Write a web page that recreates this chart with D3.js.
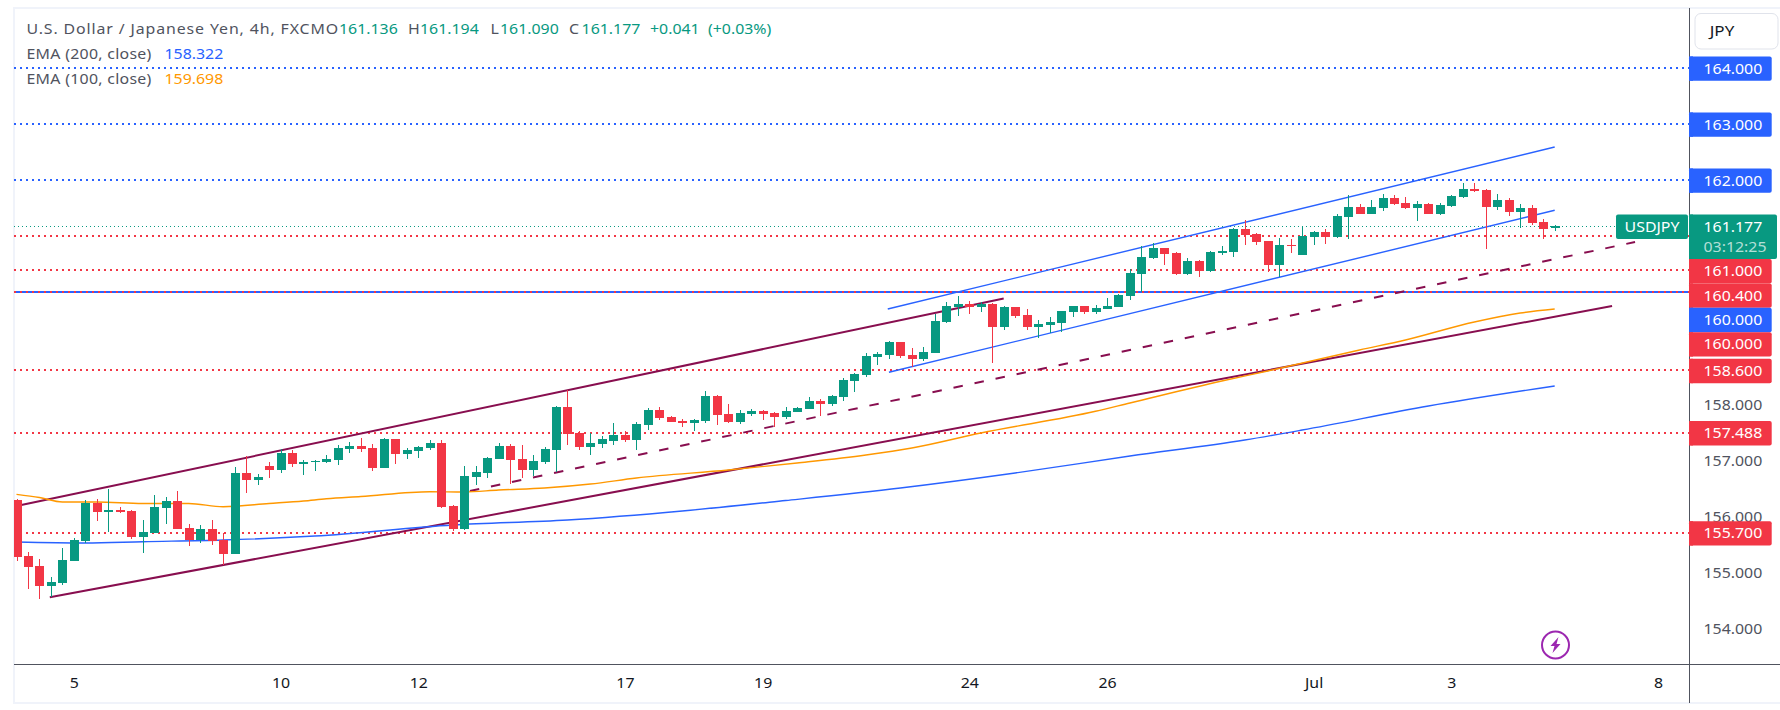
<!DOCTYPE html>
<html><head><meta charset="utf-8">
<script src="https://cdn.jsdelivr.net/npm/d3@7"></script>
<style>html,body{margin:0;padding:0;background:#fff}svg{display:block}text{font-family:"Noto Sans",sans-serif}</style>
</head><body><svg id="c" width="1780" height="710"></svg>
<script>
const opens=[156.285,155.285,155.107,154.755,154.809,155.201,155.559,156.232,156.076,156.107,
156.089,155.625,155.701,156.148,156.268,155.785,155.571,155.768,155.571,155.326,
156.768,156.643,156.893,156.821,157.125,156.928,156.964,156.964,157.000,157.196,
157.250,157.214,156.857,157.375,157.107,157.160,157.214,157.303,156.178,155.768,
156.696,156.768,157.018,157.250,157.018,156.821,156.964,157.178,157.946,157.482,
157.232,157.285,157.339,157.446,157.357,157.625,157.893,157.768,157.696,157.660,
157.696,158.143,157.821,157.678,157.821,157.875,157.839,157.768,157.857,157.910,
158.053,158.000,158.125,158.410,158.518,158.839,158.875,159.107,158.875,158.803,
158.910,159.464,159.732,159.785,159.732,159.785,159.375,159.732,159.589,159.375,
159.410,159.446,159.643,159.750,159.643,159.696,159.732,159.928,160.321,160.607,
160.785,160.696,160.321,160.553,160.375,160.696,160.714,161.125,161.035,160.910,
160.482,160.839,160.660,160.982,161.071,160.982,161.339,161.518,161.393,161.500,
161.678,161.589,161.500,161.571,161.393,161.535,161.696,161.839,161.821,161.518,
161.643,161.428,161.500,161.250,161.136];
const highs=[156.298,155.357,155.232,154.910,155.428,155.607,156.285,156.303,156.482,156.160,
156.107,155.928,156.375,156.334,156.446,155.857,155.839,155.928,155.696,156.875,
157.066,156.750,156.964,157.191,157.178,157.000,157.000,157.089,157.268,157.321,
157.393,157.285,157.393,157.375,157.214,157.250,157.357,157.357,156.196,156.893,
156.893,157.053,157.303,157.285,157.268,157.089,157.232,157.964,158.250,157.518,
157.482,157.428,157.660,157.518,157.678,157.928,157.946,157.785,157.732,157.732,
158.232,158.160,158.000,157.893,157.910,157.893,157.857,157.946,157.946,158.125,
158.089,158.160,158.464,158.553,158.910,158.928,159.125,159.107,159.000,159.018,
159.607,159.821,159.928,159.839,159.821,159.803,159.750,159.732,159.696,159.500,
159.553,159.660,159.750,159.750,159.768,159.893,159.964,160.410,160.821,160.875,
160.785,160.714,160.607,160.571,160.732,160.821,161.143,161.285,161.053,160.919,
160.964,160.946,161.178,161.089,161.125,161.393,161.732,161.571,161.643,161.750,
161.732,161.696,161.625,161.589,161.589,161.732,161.946,161.946,161.839,161.750,
161.678,161.571,161.553,161.303,161.194];
const lows=[155.201,154.701,154.518,154.548,154.768,155.201,155.512,155.916,155.714,156.053,
155.594,155.344,155.701,155.857,155.773,155.464,155.523,155.487,155.125,155.326,
156.410,156.553,156.678,156.768,156.875,156.732,156.803,156.946,156.910,157.125,
157.143,156.803,156.857,156.928,157.018,157.035,157.178,156.143,155.732,155.750,
156.553,156.678,157.018,156.571,156.678,156.714,156.928,156.785,157.268,157.178,
157.089,157.214,157.268,157.321,157.178,157.535,157.714,157.678,157.589,157.518,
157.660,157.625,157.660,157.643,157.785,157.714,157.589,157.732,157.857,157.910,
157.785,157.964,158.053,158.214,158.482,158.696,158.803,158.821,158.660,158.768,
158.910,159.446,159.571,159.607,159.643,158.732,159.321,159.535,159.321,159.178,
159.268,159.285,159.553,159.607,159.607,159.696,159.732,159.857,160.000,160.589,
160.482,160.303,160.303,160.268,160.357,160.660,160.625,160.839,160.839,160.357,
160.268,160.696,160.660,160.839,160.857,160.964,160.946,161.393,161.393,161.446,
161.553,161.482,161.268,161.393,161.375,161.518,161.678,161.785,160.768,161.464,
161.357,161.143,161.196,160.946,161.090];
const closes=[155.273,155.094,154.755,154.821,155.214,155.571,156.232,156.076,156.107,156.071,
155.630,155.714,156.160,156.268,155.773,155.571,155.768,155.559,155.326,156.768,
156.643,156.696,156.821,157.125,156.928,156.964,156.982,157.018,157.214,157.250,
157.196,156.857,157.375,157.107,157.178,157.232,157.303,156.160,155.768,156.714,
156.785,157.035,157.250,157.000,156.821,156.982,157.196,157.946,157.469,157.232,
157.303,157.375,157.446,157.357,157.643,157.893,157.750,157.678,157.660,157.714,
158.143,157.803,157.678,157.839,157.875,157.821,157.768,157.875,157.928,158.053,
158.000,158.143,158.428,158.535,158.857,158.893,159.107,158.857,158.803,158.928,
159.482,159.750,159.785,159.732,159.785,159.375,159.732,159.571,159.375,159.428,
159.464,159.660,159.750,159.643,159.714,159.750,159.946,160.339,160.625,160.785,
160.678,160.321,160.553,160.375,160.714,160.732,161.125,161.018,160.893,160.482,
160.839,160.827,161.000,161.071,160.982,161.357,161.518,161.393,161.518,161.678,
161.571,161.500,161.571,161.393,161.553,161.714,161.839,161.803,161.518,161.643,
161.428,161.500,161.232,161.125,161.177];

const ema100Index=[0,2,4,7,11,15,18,22,25,27,30,36,39,42,46,50,54,62,68,74,78,84,94,97,105,109,117,121,127,131,134];
const ema100Value=[156.387,156.330,156.250,156.250,156.223,156.223,156.166,156.223,156.268,156.307,156.348,156.434,156.428,156.464,156.500,156.571,156.678,156.821,156.946,157.089,157.214,157.482,157.870,158.018,158.410,158.589,158.964,159.143,159.464,159.625,159.696];
const ema200Index=[0,6,11,18,26,38,48,58,67,77,87,97,107,112,123,134];
const ema200Value=[155.535,155.518,155.541,155.571,155.643,155.839,155.928,156.089,156.276,156.500,156.768,157.071,157.357,157.535,157.964,158.322];

const channelPurpleUpper=[[0,156.178],[86,159.884]];
const channelPurpleLower=[[2.9,154.548],[139,159.750]];
const channelPurpleMid=[[39.5,156.446],[141,160.893]];
const channelBlueUpper=[[75.9,159.696],[134,162.589]];
const channelBlueLower=[[76,158.566],[134,161.459]];

const redLevels=[161,160.4,160,158.6,157.488,155.7];
const blueLevels=[164,163,162,160];
const lastPrice=161.177;
const yTicks=[158,157,156,155,154];
const timeTickIndex=[5,23,35,53,65,83,95,113,125,143];
const timeTickLabels=["5","10","12","17","19","24","26","Jul","3","8"];

const GREEN="#089981",RED="#f23645",BLUE="#2962ff",ORANGE="#ff9800",PURPLE="#880e4f",TXT="#50535e";
const SX=1.135, plotL=14, plotR=1689, plotT=8, plotB=664, frameB=703;
const svg=d3.select("#c");
const x=d3.scaleLinear().domain([0,143]).range([16.5,1658]);
const y=d3.scaleLinear().domain([164,154]).range([68,628]);
const yLabel=d3.scaleLinear().domain([164,154]).range([68.6,628.6]);

svg.append("defs").append("clipPath").attr("id","plot").append("rect")
  .attr("x",plotL).attr("y",plotT).attr("width",plotR-plotL).attr("height",plotB-plotT);

// frame
svg.append("path").attr("fill","none").attr("stroke","#f0f3fa").attr("stroke-width",2)
  .attr("d",`M1780,8H14V${frameB}H1780`);

const plot=svg.append("g").attr("clip-path","url(#plot)");
// price lines
const hline=(v,c,w,dash,xe=plotR)=>plot.append("line").attr("x1",plotL).attr("x2",xe).attr("y1",y(v)).attr("y2",y(v))
  .attr("stroke",c).attr("stroke-width",w).attr("stroke-dasharray",dash).attr("shape-rendering","crispEdges");
hline(160,BLUE,2,null);
blueLevels.filter(v=>v!==160).forEach(v=>hline(v,BLUE,2,"2 4"));
redLevels.forEach(v=>hline(v,RED,2,"2 4"));
hline(lastPrice,GREEN,1,"1 3",1616);

// trend lines
const seg=d3.line().x(d=>x(d[0])).y(d=>y(d[1]));
const trend=(pts,c,w,dash)=>plot.append("path").attr("d",seg(pts)).attr("fill","none").attr("stroke",c).attr("stroke-width",w).attr("stroke-dasharray",dash);
trend(channelPurpleUpper,PURPLE,2);
trend(channelPurpleLower,PURPLE,2);
trend(channelPurpleMid,PURPLE,2,"9.5 12");
trend(channelBlueUpper,BLUE,1.4);
trend(channelBlueLower,BLUE,1.4);

// EMAs
const emaLine=d3.line().x(d=>x(d[0])).y(d=>y(d[1])).curve(d3.curveMonotoneX);
plot.append("path").attr("d",emaLine(d3.zip(ema200Index,ema200Value))).attr("fill","none").attr("stroke",BLUE).attr("stroke-width",1.4);
plot.append("path").attr("d",emaLine(d3.zip(ema100Index,ema100Value))).attr("fill","none").attr("stroke",ORANGE).attr("stroke-width",1.4);

// candles
const candles=opens.map((o,i)=>({i,o,h:highs[i],l:lows[i],c:closes[i]}));
const cg=plot.append("g").selectAll("g").data(candles).join("g").attr("shape-rendering","crispEdges")
  .attr("fill",d=>d.c>=d.o?GREEN:RED);
cg.append("rect").attr("x",d=>Math.round(x(d.i))).attr("width",1)
  .attr("y",d=>y(d.h)).attr("height",d=>y(d.l)-y(d.h));
cg.append("rect").attr("x",d=>Math.round(x(d.i))-4).attr("width",9)
  .attr("y",d=>y(Math.max(d.o,d.c))).attr("height",d=>Math.max(1,Math.abs(y(d.o)-y(d.c))));

// bottom axis
const xAxis=d3.axisBottom(x).tickValues(timeTickIndex).tickFormat((d,i)=>timeTickLabels[i]).tickSize(0);
const gx=svg.append("g").attr("transform",`translate(0,${plotB})`).call(xAxis);
gx.select(".domain").remove();
gx.selectAll("text").attr("y",0).attr("dy",0).attr("fill","#131722").attr("font-size",14).attr("font-family",'"Noto Sans",sans-serif')
  .attr("transform",`translate(0,24) scale(${SX},1)`);

// right axis
const yAxis=d3.axisRight(yLabel).tickValues(yTicks).tickFormat(d3.format(".3f")).tickSize(0);
const gy=svg.append("g").attr("transform",`translate(${plotR},0)`).call(yAxis);
gy.select(".domain").remove();
gy.selectAll("text").attr("x",0).attr("dy",0).attr("fill",TXT).attr("font-size",14).attr("font-family",'"Noto Sans",sans-serif')
  .attr("text-anchor","start").attr("transform",`translate(14.5,5) scale(${SX},1)`);

// axis lines
svg.append("line").attr("x1",plotR).attr("x2",plotR).attr("y1",8).attr("y2",frameB).attr("stroke",TXT).attr("shape-rendering","crispEdges");
svg.append("line").attr("x1",14).attr("x2",1780).attr("y1",plotB).attr("y2",plotB).attr("stroke",TXT).attr("shape-rendering","crispEdges");

// text helper
function label(g,xp,yp,str,size,color,anchor,op,ls){
  return g.append("text").attr("transform",`translate(${xp},${yp}) scale(${SX},1)`).attr("font-size",size)
    .attr("fill",color).attr("text-anchor",anchor||"start").attr("fill-opacity",op==null?1:op)
    .attr("letter-spacing",ls||null).text(str);
}

// price badges with collision push-down
const badges=[...blueLevels.map(v=>({v,c:BLUE})),...redLevels.map(v=>({v,c:RED})),{v:lastPrice,c:GREEN,last:true}]
  .sort((a,b)=>b.v-a.v||(a.c===BLUE?-1:1));
const H=24.4; let prev=-1e9;
const bg=svg.append("g");
badges.forEach(b=>{
  const h=b.last?44.5:H, w=b.last?88:82.7;
  const top=Math.max(yLabel(b.v)-H/2,prev); prev=top+h;
  bg.append("rect").attr("x",plotR).attr("y",top).attr("width",w).attr("height",h).attr("rx",2).attr("fill",b.c);
  bg.append("rect").attr("x",plotR).attr("y",top).attr("width",4).attr("height",h).attr("fill",b.c);
  label(bg,1703.5,top+H/2+5,d3.format(".3f")(b.v),14,"#fff");
  if(b.last){
    label(bg,1703.5,top+H/2+25.3,"03:12:25",14,"#fff","start",0.7);
    bg.append("rect").attr("x",1616).attr("y",top).attr("width",72).attr("height",H).attr("rx",2).attr("fill",GREEN);
    label(bg,1652,top+H/2+5,"USDJPY",14,"#fff","middle");
  }
});

// currency button
svg.append("rect").attr("x",1695).attr("y",13.5).attr("width",83).attr("height",35.5).attr("rx",6).attr("fill","#fff").attr("stroke","#e0e3eb");
label(svg,1722,36,"JPY",15,"#131722","middle");

// legend
const leg=svg.append("g");
const row=(yp,items)=>items.forEach(([xp,s,c,ls])=>label(leg,xp,yp,s,14,c,"start",1,ls));
row(33.5,[[26.5,"U.S. Dollar / Japanese Yen, 4h, FXCM",TXT,0.78],[325.7,"O",TXT],[339,"161.136",GREEN],[408,"H",TXT],[420,"161.194",GREEN],[490.6,"L",TXT],[500,"161.090",GREEN],[569,"C",TXT],[581.6,"161.177",GREEN],[650,"+0.041",GREEN],[708,"(+0.03%)",GREEN]]);
row(58.5,[[26.5,"EMA (200, close)",TXT,0.25],[164.5,"158.322",BLUE]]);
row(83.5,[[26.5,"EMA (100, close)",TXT,0.25],[164.5,"159.698",ORANGE]]);

// lightning badge
const ic=svg.append("g").attr("transform","translate(1555.5,645)");
ic.append("circle").attr("r",13.5).attr("fill","#fff").attr("stroke","#9c27b0").attr("stroke-width",2);
ic.append("path").attr("d","M3,-8 L-5,1 L-1,1 L-3,8 L5,-1 L1,-1 Z").attr("fill","#9c27b0");
</script></body></html>
